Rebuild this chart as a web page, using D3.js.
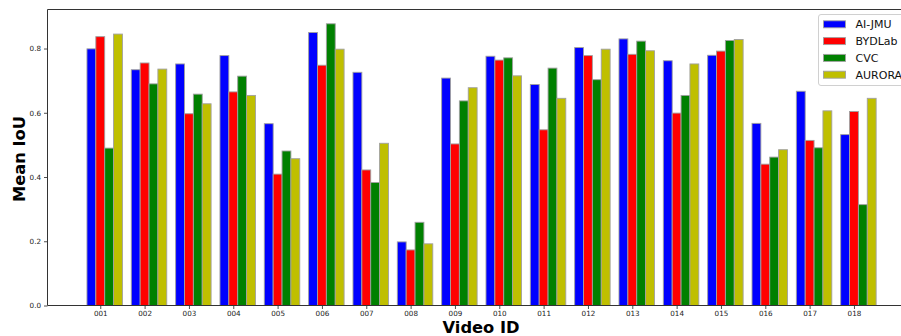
<!DOCTYPE html>
<html>
<head>
<meta charset="utf-8">
<script src="https://cdn.jsdelivr.net/npm/d3@7"></script>
<style>
  html, body { margin: 0; padding: 0; background: #fff; }
  svg { display: block; font-family: "DejaVu Sans", sans-serif; }
</style>
</head>
<body>
<svg id="chart" width="901" height="336"></svg>
<script>
// Per-video mean IoU for each team
const videoIds = ["001","002","003","004","005","006","007","008","009","010","011","012","013","014","015","016","017","018"];
const teams = ["AI-JMU", "BYDLab", "CVC", "AURORA"];
const aiJmu  = [0.799, 0.734, 0.752, 0.778, 0.566, 0.850, 0.726, 0.198, 0.708, 0.776, 0.688, 0.803, 0.830, 0.762, 0.779, 0.567, 0.667, 0.532];
const bydLab = [0.837, 0.755, 0.597, 0.665, 0.409, 0.748, 0.422, 0.173, 0.503, 0.764, 0.547, 0.778, 0.782, 0.599, 0.792, 0.440, 0.514, 0.604];
const cvc    = [0.490, 0.690, 0.658, 0.714, 0.481, 0.877, 0.383, 0.259, 0.637, 0.771, 0.739, 0.703, 0.823, 0.654, 0.825, 0.462, 0.491, 0.314];
const aurora = [0.845, 0.736, 0.628, 0.654, 0.457, 0.798, 0.505, 0.192, 0.678, 0.715, 0.645, 0.798, 0.793, 0.752, 0.828, 0.485, 0.606, 0.645];
const yTicks = [0.0, 0.2, 0.4, 0.6, 0.8];

const series = [aiJmu, bydLab, cvc, aurora];
const colors = ["#0000ff", "#ff0000", "#008000", "#bfbf00"];
const barW = 0.2;

const svg = d3.select("#chart");
const plotLeft = 47.5, plotBottom = 305.5, plotTop = 9.5, plotRight = 915.6;

// Bars of video i sit at i, i+0.2, i+0.4, i+0.6; tick under the second bar
const x = d3.scaleLinear().domain([-0.99, 18.59]).range([plotLeft, plotRight]);
const y = d3.scaleLinear().domain([0, 0.9215]).range([plotBottom, plotTop]);

const rows = [];
series.forEach((vals, s) => vals.forEach((v, i) => rows.push({ s, i, v })));

svg.append("g").selectAll("rect").data(rows).join("rect")
  .attr("x", d => x(d.i + d.s * barW - barW / 2))
  .attr("width", d => x(barW) - x(0))
  .attr("y", d => y(d.v))
  .attr("height", d => y(0) - y(d.v))
  .attr("fill", d => colors[d.s])
  .attr("stroke", "#a0a0a0")
  .attr("stroke-width", 0.9);

// Axes
const xAxis = d3.axisBottom(x)
  .tickValues(videoIds.map((_, i) => i + barW))
  .tickFormat((d, i) => videoIds[i])
  .tickSize(3.5).tickPadding(1.5);
const yAxis = d3.axisLeft(y)
  .tickValues(yTicks)
  .tickFormat(d3.format(".1f"))
  .tickSize(3.5).tickPadding(3);

const gx = svg.append("g").attr("transform", `translate(0,${plotBottom})`).call(xAxis);
const gy = svg.append("g").attr("transform", `translate(${plotLeft},0)`).call(yAxis);
[gx, gy].forEach(g => {
  g.select(".domain").remove();
  g.selectAll(".tick line").attr("stroke", "#222").attr("stroke-width", 0.8);
  g.selectAll(".tick text").attr("fill", "#222").style("font-size", "7.2px")
    .style("font-family", "DejaVu Sans, sans-serif");
});

// Frame (left, bottom, top spines)
svg.append("path")
  .attr("d", `M${plotRight},${plotTop}H${plotLeft}V${plotBottom}H${plotRight}`)
  .attr("fill", "none").attr("stroke", "#333").attr("stroke-width", 1);

// Axis titles
svg.append("text")
  .attr("x", 481).attr("y", 332.5)
  .attr("text-anchor", "middle")
  .style("font-size", "16.3px").style("font-weight", "bold")
  .text("Video ID");
svg.append("text")
  .attr("transform", "translate(25,159) rotate(-90)")
  .attr("text-anchor", "middle")
  .style("font-size", "16.3px").style("font-weight", "bold")
  .text("Mean IoU");

// Legend
const lg = svg.append("g").attr("transform", "translate(818.5,14.5)");
lg.append("rect")
  .attr("width", 115).attr("height", 71).attr("rx", 2.5)
  .attr("fill", "#fff").attr("fill-opacity", 0.8)
  .attr("stroke", "#d0d0d0").attr("stroke-width", 1);
teams.forEach((t, k) => {
  const cy = 9.8 + k * 16.8;
  lg.append("rect")
    .attr("x", 5).attr("y", cy - 3.5).attr("width", 22).attr("height", 7)
    .attr("fill", colors[k]).attr("stroke", "#a0a0a0").attr("stroke-width", 0.9);
  lg.append("text")
    .attr("x", 37).attr("y", cy).attr("dy", "0.36em")
    .style("font-size", "11px").attr("fill", "#111")
    .text(t);
});
</script>
</body>
</html>
